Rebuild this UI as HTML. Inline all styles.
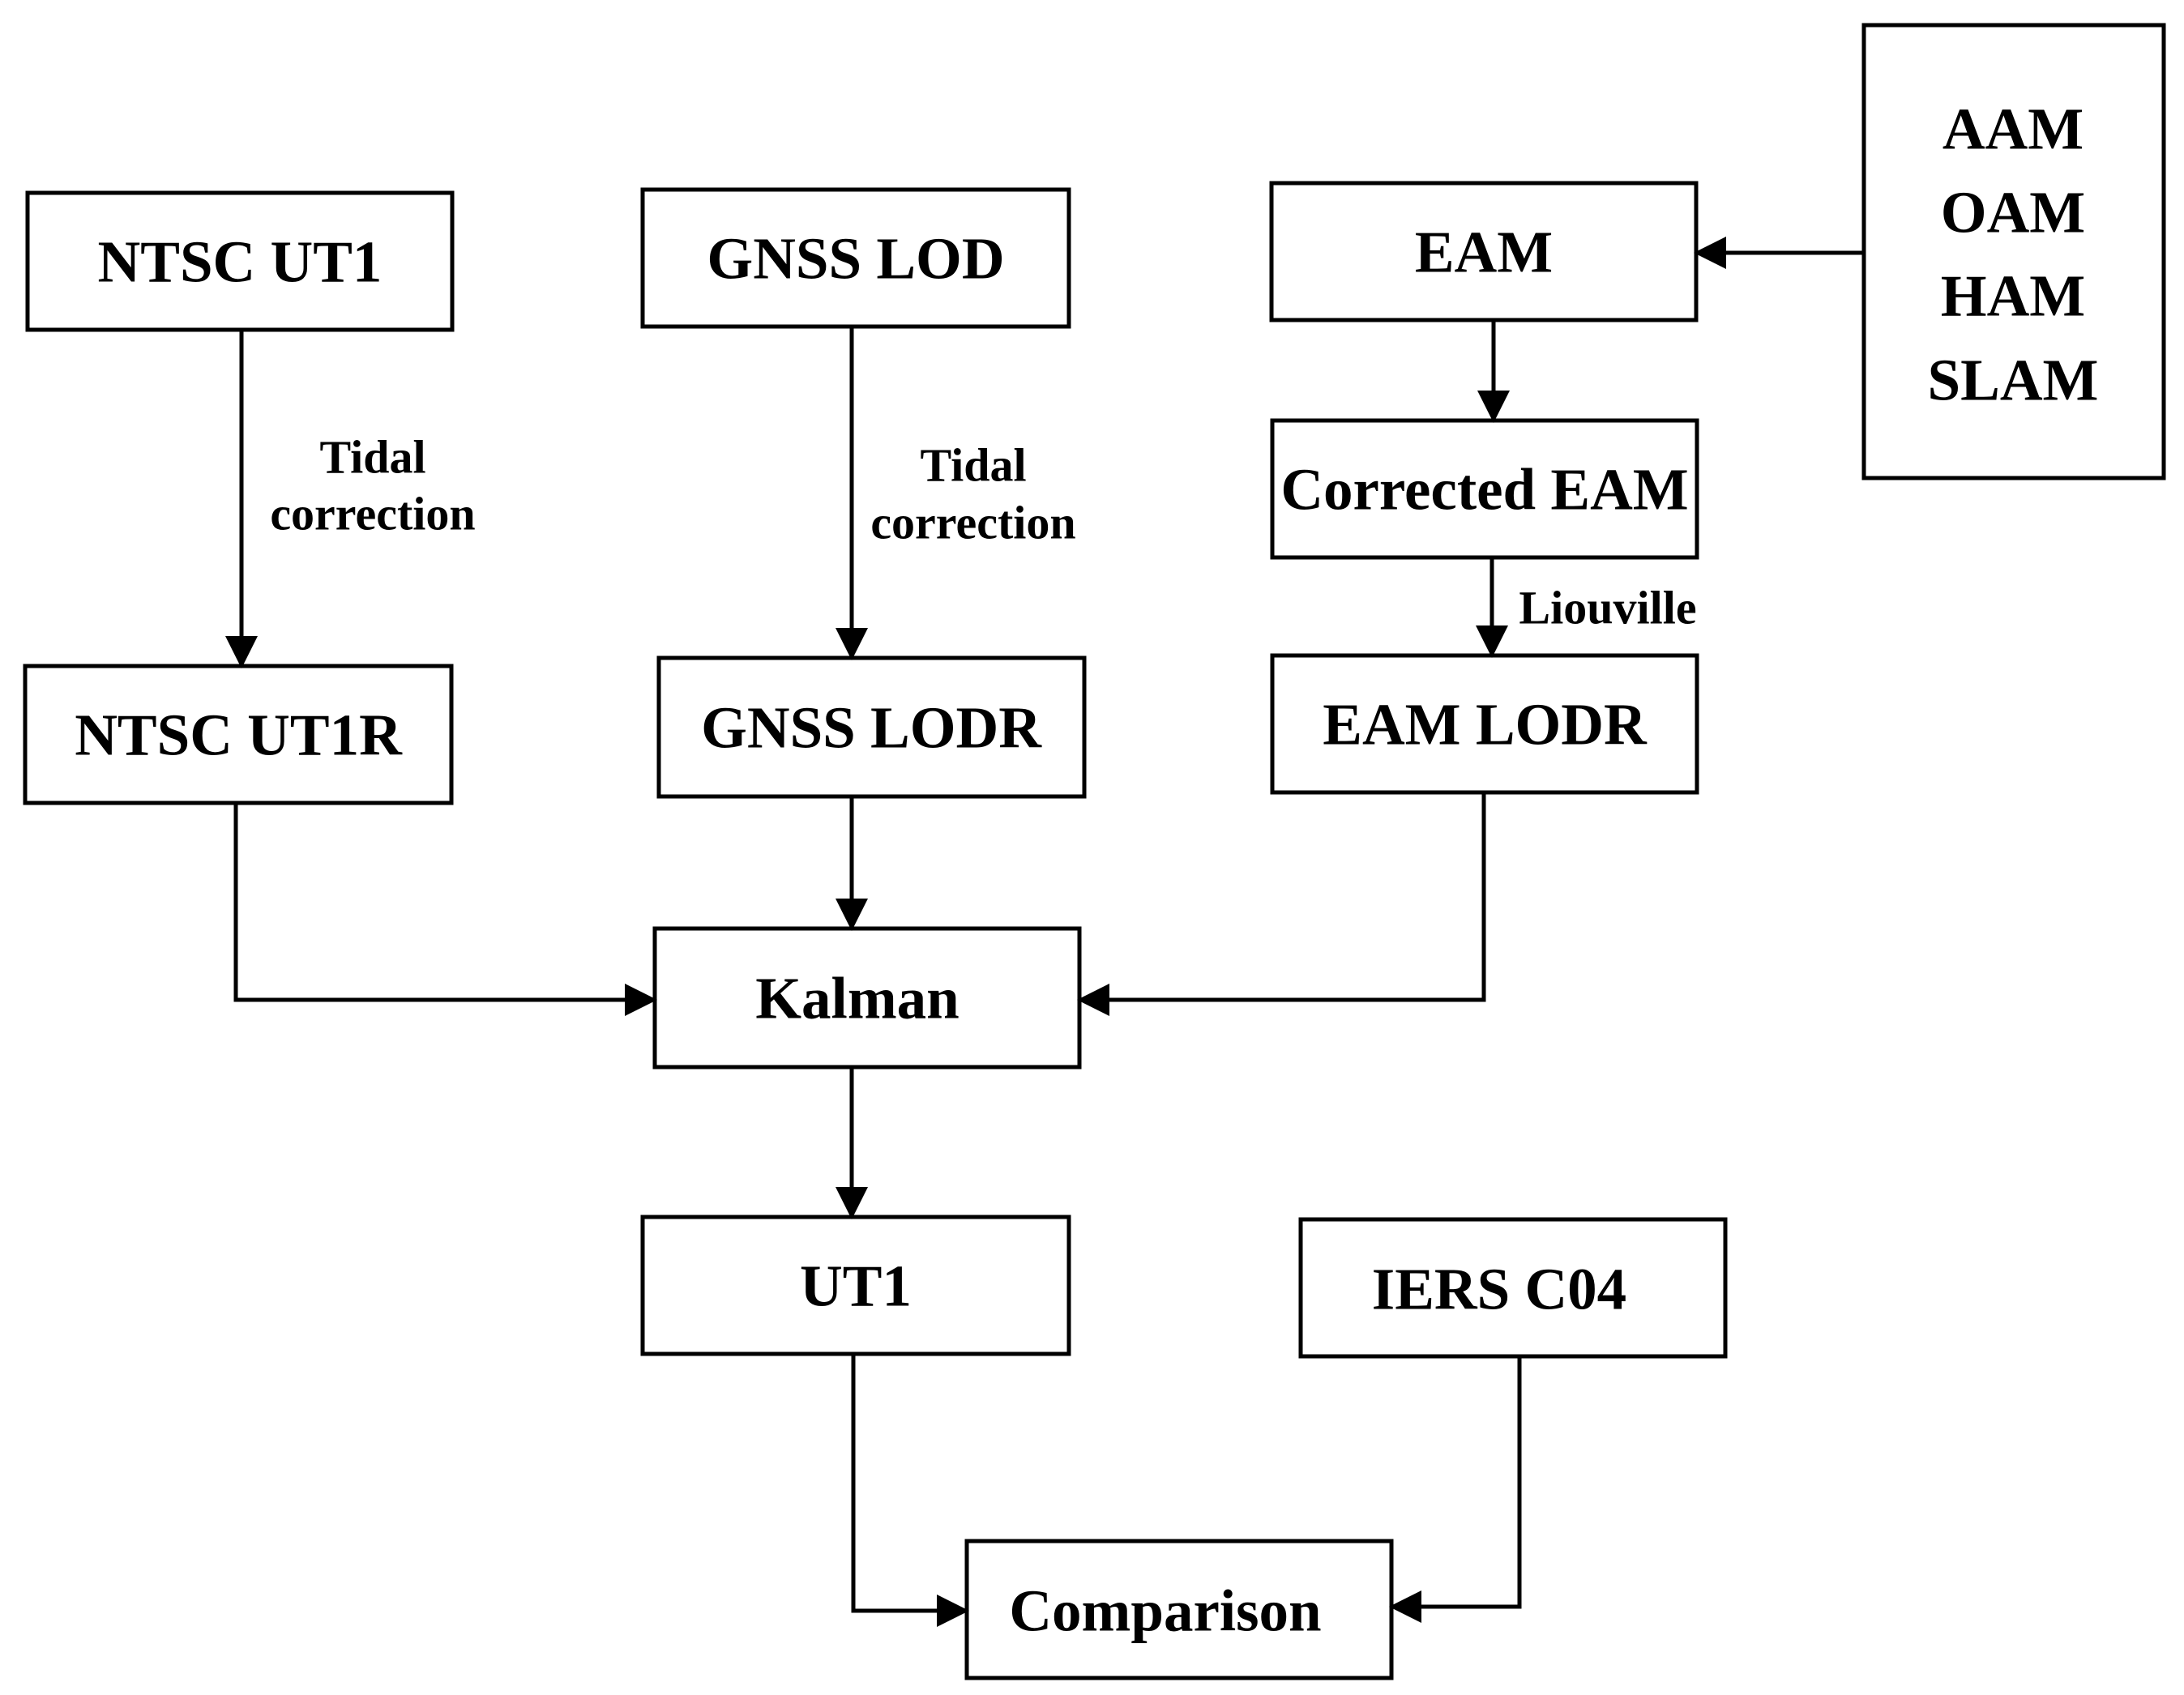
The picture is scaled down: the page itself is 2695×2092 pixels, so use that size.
<!DOCTYPE html>
<html><head><meta charset="utf-8"><style>
html,body{margin:0;padding:0;background:#fff;}
svg{display:block;}
text{font-family:"Liberation Serif",serif;font-weight:bold;fill:#000;text-anchor:middle;dominant-baseline:central;}
</style></head><body>
<svg width="2695" height="2092" viewBox="0 0 2695 2092" xmlns="http://www.w3.org/2000/svg">
<defs><marker id="a" markerWidth="8" markerHeight="8" refX="7" refY="4" orient="auto" markerUnits="strokeWidth"><path d="M0,0 L8,4 L0,8 z" fill="#000"/></marker></defs>
<g fill="none" stroke="#000" stroke-width="5">
<rect x="34" y="238" width="524" height="169"/>
<rect x="793" y="234" width="526" height="169"/>
<rect x="1569" y="226" width="524" height="169"/>
<rect x="2300" y="31" width="370" height="559"/>
<rect x="1570" y="519" width="524" height="169"/>
<rect x="1570" y="809" width="524" height="169"/>
<rect x="31" y="822" width="526" height="169"/>
<rect x="813" y="812" width="525" height="171"/>
<rect x="808" y="1146" width="524" height="171"/>
<rect x="793" y="1502" width="526" height="169"/>
<rect x="1605" y="1505" width="524" height="169"/>
<rect x="1193" y="1902" width="524" height="169"/>
<g marker-end="url(#a)">
<path d="M298,407 V820"/>
<path d="M1051,403 V810"/>
<path d="M1843,395 V517"/>
<path d="M2300,312 H2095"/>
<path d="M1841,688 V807"/>
<path d="M291,991 V1234 H806"/>
<path d="M1051,983 V1144"/>
<path d="M1831,978 V1234 H1334"/>
<path d="M1051,1317 V1500"/>
<path d="M1053,1671 V1988 H1191"/>
<path d="M1875,1674 V1983 H1719"/>
</g></g>
<g font-size="73">
<text x="296" y="323">NTSC UT1</text>
<text x="1056" y="319">GNSS LOD</text>
<text x="1831" y="311">EAM</text>
<text x="1832" y="604">Corrected EAM</text>
<text x="1832" y="894">EAM LODR</text>
<text x="294" y="907">NTSC UT1R</text>
<text x="1075" y="898">GNSS LODR</text>
<text x="1058" y="1232">Kalman</text>
<text x="1056" y="1587">UT1</text>
<text x="1850" y="1591">IERS C04</text>
<text x="1438" y="1988">Comparison</text>
<text x="2484" y="159">AAM</text>
<text x="2484" y="262">OAM</text>
<text x="2484" y="365">HAM</text>
<text x="2484" y="469">SLAM</text>
</g>
<g font-size="58">
<text x="460" y="564">Tidal</text>
<text x="460" y="634">correction</text>
<text x="1201" y="574">Tidal</text>
<text x="1201" y="645">correction</text>
<text x="1984" y="750">Liouville</text>
</g>
</svg>
</body></html>
